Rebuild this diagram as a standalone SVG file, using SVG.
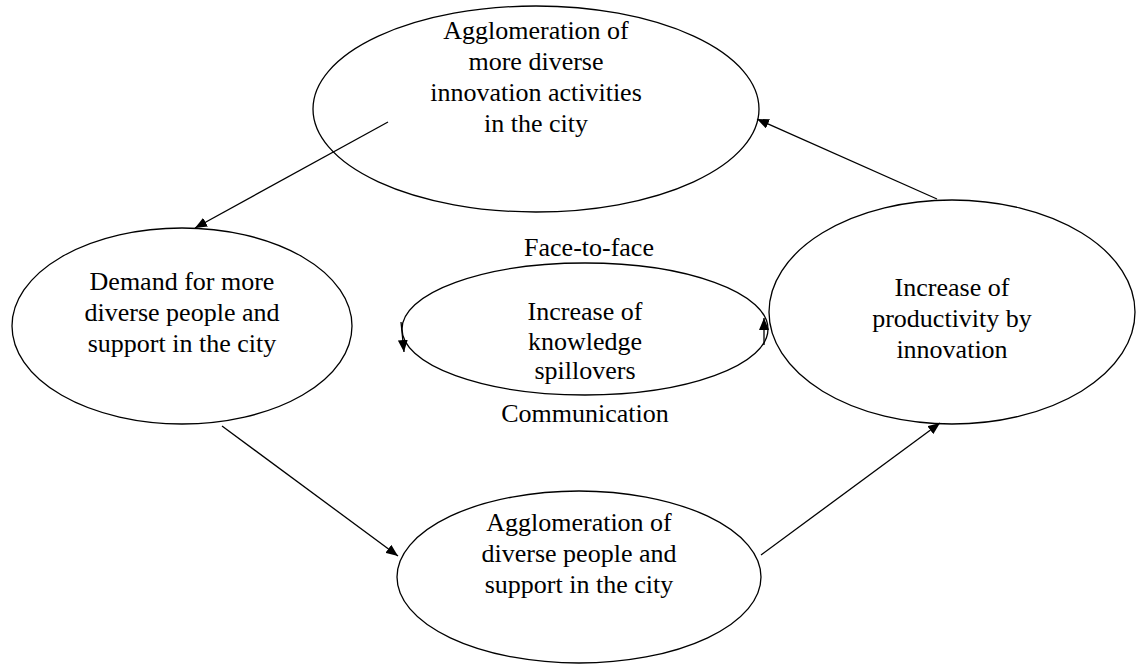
<svg xmlns="http://www.w3.org/2000/svg" width="1137" height="666" viewBox="0 0 1137 666">
<defs>
<marker id="ah" viewBox="0 0 12 10" refX="12" refY="5" markerWidth="12" markerHeight="10" markerUnits="userSpaceOnUse" orient="auto">
<path d="M0,0 L12,5 L0,10 Z" fill="#000"/>
</marker>
</defs>
<style>
.n{fill:#fff;stroke:#000;stroke-width:1.3}
.t{font-family:"Liberation Serif","Times New Roman",serif;font-size:26px;fill:#000;text-anchor:middle}
.c{stroke:#000;stroke-width:1.3;fill:none}
</style>
<rect width="1137" height="666" fill="#fff"/>
<g id="top">
<ellipse class="n" cx="536" cy="109" rx="223" ry="103"/>
<text class="t" x="536" y="39">Agglomeration of</text>
<text class="t" x="536" y="70">more diverse</text>
<text class="t" x="536" y="101">innovation activities</text>
<text class="t" x="536" y="132">in the city</text>
</g>
<g id="left">
<ellipse class="n" cx="182" cy="326" rx="170" ry="98"/>
<text class="t" x="182" y="290">Demand for more</text>
<text class="t" x="182" y="321">diverse people and</text>
<text class="t" x="182" y="352">support in the city</text>
</g>
<g id="right">
<ellipse class="n" cx="952" cy="312" rx="183" ry="112"/>
<text class="t" x="952" y="296">Increase of</text>
<text class="t" x="952" y="327">productivity by</text>
<text class="t" x="952" y="358">innovation</text>
</g>
<g id="bottom">
<ellipse class="n" cx="579" cy="577" rx="182" ry="86"/>
<text class="t" x="579" y="531">Agglomeration of</text>
<text class="t" x="579" y="562">diverse people and</text>
<text class="t" x="579" y="593">support in the city</text>
</g>
<g id="center">
<ellipse class="n" cx="585" cy="329" rx="183" ry="66"/>
<text class="t" x="585" y="320">Increase of</text>
<text class="t" x="585" y="350">knowledge</text>
<text class="t" x="585" y="379">spillovers</text>
<text class="t" x="589" y="256">Face-to-face</text>
<text class="t" x="585" y="422">Communication</text>
</g>
<g id="connectors">
<line class="c" x1="388" y1="122" x2="195" y2="228" marker-end="url(#ah)"/>
<line class="c" x1="222" y1="426" x2="398" y2="556" marker-end="url(#ah)"/>
<line class="c" x1="761" y1="555" x2="940" y2="423" marker-end="url(#ah)"/>
<line class="c" x1="937" y1="199" x2="757" y2="119" marker-end="url(#ah)"/>
<line class="c" x1="401" y1="322" x2="404" y2="352" marker-end="url(#ah)"/>
<line class="c" x1="764" y1="345" x2="764" y2="318" marker-end="url(#ah)"/>
</g>
</svg>
